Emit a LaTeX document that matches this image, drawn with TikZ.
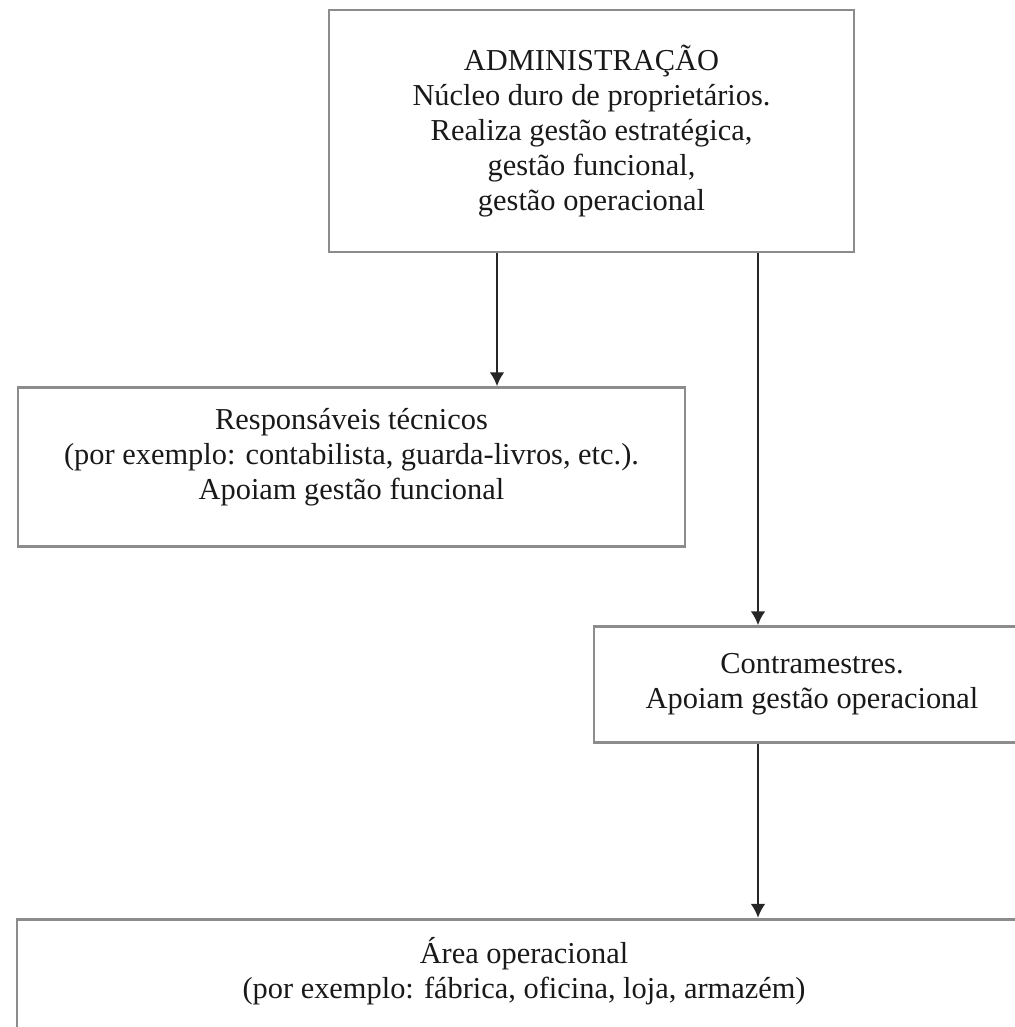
\documentclass[tikz,border=0pt]{standalone}
\usepackage{fontspec}
\setmainfont{Liberation Serif}
\usetikzlibrary{arrows.meta,positioning}

\begin{document}
\begin{tikzpicture}[x=0.5pt,y=0.5pt,>={Latex[length=7pt,width=7.5pt]}]
        \tikzset{box/.style={draw=black!45, line width=1.3pt, rectangle, align=center, text=black!90,
            font=\fontsize{15.2}{17.5}\selectfont},
        link/.style={->, draw=black!85, line width=1.4pt},
        }
        \useasboundingbox (0,0) rectangle (1014,-1027);
        \node [box, minimum width=262.5pt, minimum height=121pt] (admin) at (591.5,-131)
            {ADMINISTRAÇÃO\\ Núcleo duro de proprietários.\\ Realiza gestão estratégica,\\ gestão funcional,\\ gestão operacional};
        \node [box, minimum width=333.5pt, minimum height=79.5pt, text depth=13.5pt, below=66.5pt of admin, xshift=-120pt] (resp)
            {Responsáveis técnicos\\ (por exemplo: contabilista, guarda-livros, etc.).\\ Apoiam gestão funcional};
        \node [box, minimum width=218pt, minimum height=58pt, below=186pt of admin, xshift=110.25pt] (contra)
            {Contramestres.\\ Apoiam gestão operacional};
        \node [box, minimum width=507pt, inner ysep=9pt, text depth=70pt, below=87pt of contra, xshift=-144pt] (area)
            {Área operacional\\ (por exemplo: fábrica, oficina, loja, armazém)};

%% drop points under the top box
        \path (admin.south) ++(-94.5,0) coordinate (dropA)
              (admin.south) ++(166.5,0) coordinate (dropB);

%% paths
        \draw [link] (dropA) -- (dropA |- resp.north);
        \draw [link] (dropB) -- (dropB |- contra.north);
        \draw [link] (dropB |- contra.south) -- (dropB |- area.north);
\end{tikzpicture}
\end{document}
